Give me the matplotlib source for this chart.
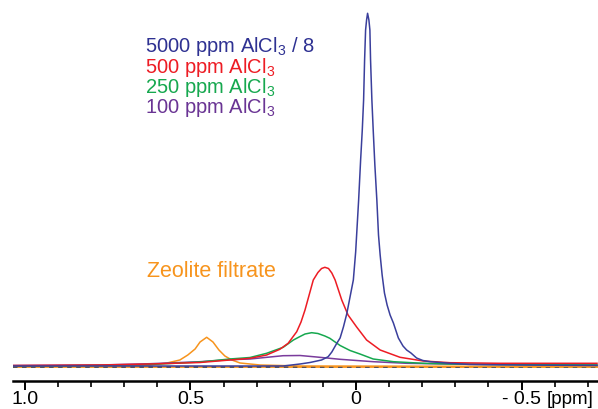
import matplotlib
matplotlib.use('Agg')
import matplotlib.pyplot as plt

plt.rcParams['font.family'] = ['Liberation Sans', 'DejaVu Sans']
plt.rcParams['mathtext.fontset'] = 'custom'
plt.rcParams['mathtext.rm'] = 'Liberation Sans'
plt.rcParams['mathtext.it'] = 'Liberation Sans'

# 27Al NMR traces (ppm, intensity in arbitrary units)
blue_ppm = [1.036, 0.773, 0.471, 0.320, 0.220, 0.169, 0.139, 0.104, 0.084, 0.073, 0.058, 0.048, 0.038,
            0.028, 0.018, 0.008, 0.001, -0.008, -0.014, -0.019, -0.023, -0.026, -0.029, -0.032, -0.035,
            -0.039, -0.042, -0.044, -0.048, -0.052, -0.057, -0.063, -0.068, -0.073, -0.079, -0.086,
            -0.094, -0.103, -0.113, -0.128, -0.142, -0.153, -0.166, -0.183, -0.202, -0.224, -0.284,
            -0.344, -0.495, -0.728]
blue_int = [1, 1, 1, 1, 1, 3, 4.5, 7, 10.3, 15, 23.7, 29, 40, 53, 70, 87, 115, 167, 207, 237, 267, 307,
            337, 347, 353.7, 347, 337, 307, 267, 237, 202, 167, 132, 112, 92, 74, 62, 52, 44, 29, 21, 17,
            14, 9, 6.5, 5.3, 3.7, 2.5, 2, 1.5]

red_ppm = [1.036, 0.773, 0.622, 0.471, 0.381, 0.320, 0.270, 0.230, 0.205, 0.179, 0.166, 0.154, 0.129,
           0.115, 0.104, 0.094, 0.083, 0.073, 0.063, 0.043, 0.024, -0.002, -0.032, -0.073, -0.133,
           -0.203, -0.284, -0.435, -0.728]
red_int = [1.5, 2, 3, 4.5, 7, 8.7, 12, 17.7, 23.7, 35.3, 45, 57, 87, 94.5, 98.5, 99.7, 98.5, 94, 87, 67,
           52, 40, 27, 17, 9.7, 6, 4.3, 3.7, 3.7]

green_ppm = [1.036, 0.773, 0.622, 0.471, 0.381, 0.320, 0.270, 0.220, 0.189, 0.169, 0.154, 0.134, 0.115,
             0.094, 0.079, 0.048, 0.018, -0.012, -0.052, -0.113, -0.203, -0.284, -0.435, -0.728]
green_int = [1, 1.5, 2.5, 5, 8, 9.5, 13.7, 19.7, 27, 30.5, 33, 34.3, 33.5, 31, 28.7, 21.5, 16.5, 13, 8,
             5.3, 3.7, 3, 2.5, 2]

purple_ppm = [1.036, 0.773, 0.622, 0.471, 0.381, 0.320, 0.260, 0.220, 0.169, 0.119, 0.048, -0.052,
              -0.153, -0.284, -0.435, -0.728]
purple_int = [1.5, 2, 3.3, 5.3, 7.3, 8, 10, 11.3, 11.5, 10, 7.7, 5.3, 3.7, 3, 2.5, 2]

orange_ppm = [1.036, 0.773, 0.622, 0.571, 0.532, 0.508, 0.486, 0.471, 0.451, 0.432, 0.414, 0.396,
              0.375, 0.350, 0.290, 0.169, -0.728]
orange_int = [1, 1, 2, 4, 7, 12, 18, 25, 29.7, 25, 17, 11, 7, 4, 2, 1, 0.5]

series_labels = ['5000 ppm AlCl$_3$ / 8', '500 ppm AlCl$_3$', '250 ppm AlCl$_3$', '100 ppm AlCl$_3$']
major_ticks = [1.0, 0.5, 0.0, -0.5]
major_labels = ['1.0', '0.5', '0', '- 0.5']
minor_ticks = [0.9, 0.8, 0.7, 0.6, 0.4, 0.3, 0.2, 0.1, -0.1, -0.2, -0.3, -0.4, -0.6, -0.7]

BLUE = '#3a3f9c'
RED = '#ed1c24'
GREEN = '#16a84f'
PURPLE = '#7a3c9c'
ORANGE = '#f7941d'
LW = 1.1

W, H = 598, 409
fig = plt.figure(figsize=(W / 100, H / 100), dpi=100)
ax = fig.add_axes([13 / W, 28 / H, 585 / W, 381 / H])

ax.axhline(0, color=ORANGE, lw=1.3, zorder=1)
ax.axhline(0, color='#4a4a5a', lw=1.3, ls=(0, (2.5, 2.5)), zorder=1.1)

ax.plot(orange_ppm, orange_int, color=ORANGE, lw=LW, zorder=2)
ax.plot(purple_ppm, purple_int, color=PURPLE, lw=LW, zorder=3)
ax.plot(green_ppm, green_int, color=GREEN, lw=LW, zorder=4)
ax.plot(red_ppm, red_int, color=RED, lw=LW, zorder=5)
ax.plot(blue_ppm, blue_int, color=BLUE, lw=LW, zorder=6)

ax.set_xlim(1.036, -0.731)
ax.set_ylim(-14, 367)

for s in ['left', 'right', 'top']:
    ax.spines[s].set_visible(False)
ax.spines['bottom'].set_linewidth(1.8)
ax.set_yticks([])
ax.set_xticks(major_ticks)
ax.set_xticklabels(major_labels)
ax.set_xticks(minor_ticks, minor=True)
ax.tick_params(axis='x', which='major', length=6.5, width=1.4, pad=0.5, labelsize=14, color='black')
ax.tick_params(axis='x', which='minor', length=4.3, width=1.2, color='black')

ax.annotate('[ppm]', xy=(0.953, 0), xycoords='axes fraction', xytext=(0, -7),
            textcoords='offset points', ha='center', va='top', fontsize=13.5)

# concentration labels
text_colors = ['#2e3192', RED, GREEN, '#6a3494']
baselines = [51.7, 72.7, 93.3, 113.3]
for lab, c, yb in zip(series_labels, text_colors, baselines):
    fig.text(145 / W, 1 - yb / H, lab, color=c, fontsize=14.5, ha='left', va='baseline')

fig.text(147 / W, 1 - 276.7 / H, 'Zeolite filtrate', color=ORANGE, fontsize=15.5, ha='left', va='baseline')

fig.savefig('out.png', dpi=100)
